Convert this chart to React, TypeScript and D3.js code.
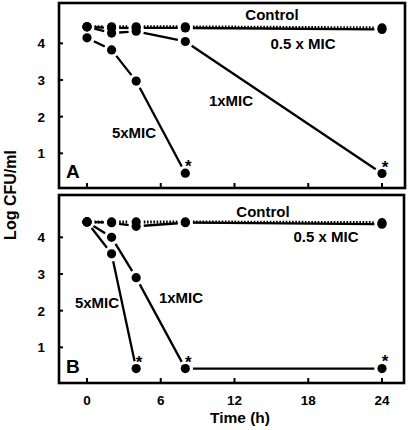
import React from "react";
import * as d3 from "d3";

const times = [0, 2, 4, 8, 24];
const xTicks = [0, 6, 12, 18, 24];
const yTicks = [1, 2, 3, 4];

// Panel A
const aControl = [4.45, 4.45, 4.45, 4.45, 4.42];
const aHalf = [4.45, 4.42, 4.42, 4.42, 4.38];
const aOne = [4.45, 4.28, 4.33, 4.05, 0.45];
const aFiveT = [0, 2, 4, 8];
const aFive = [4.15, 3.82, 2.97, 0.46];
const aStars = [[8, 0.46], [24, 0.45]];

// Panel B
const bControl = [4.42, 4.42, 4.42, 4.42, 4.4];
const bHalf = [4.42, 4.4, 4.3, 4.4, 4.36];
const bOneT = [0, 2, 4, 8, 24];
const bOne = [4.42, 4.0, 2.9, 0.42, 0.42];
const bFiveT = [0, 2, 4];
const bFive = [4.42, 3.55, 0.42];
const bStars = [[4, 0.42], [8, 0.42], [24, 0.43]];

const FONT = "'Liberation Sans', Arial, Helvetica, sans-serif";

const x = d3.scaleLinear().domain([0, 24]).range([87, 382]);

type Series = { t: number[]; v: number[]; dotted?: boolean };

function Panel({
  top,
  bottom,
  right,
  yRange,
  series,
  stars,
  letter,
  labels,
  showXLabels,
}: {
  top: number;
  bottom: number;
  right: number;
  yRange: [number, number];
  series: Series[];
  stars: number[][];
  letter: string;
  labels: { text: string; x: number; y: number; anchor?: string }[];
  showXLabels: boolean;
}) {
  const y = d3.scaleLinear().domain([0, 5.1]).range(yRange);
  const left = 59;
  const r = 4.6;
  const gap = r + 3;
  const segs: JSX.Element[] = [];
  series.forEach((s, si) => {
    for (let i = 0; i < s.t.length - 1; i++) {
      const x1 = x(s.t[i]);
      const y1 = y(s.v[i]);
      const x2 = x(s.t[i + 1]);
      const y2 = y(s.v[i + 1]);
      const len = Math.hypot(x2 - x1, y2 - y1);
      if (len <= gap * 2) continue;
      const ux = (x2 - x1) / len;
      const uy = (y2 - y1) / len;
      segs.push(
        <line
          key={`s${si}-${i}`}
          x1={x1 + ux * gap}
          y1={y1 + uy * gap}
          x2={x2 - ux * gap}
          y2={y2 - uy * gap}
          stroke="#000"
          strokeWidth={s.dotted ? 3 : 2.3}
          strokeDasharray={s.dotted ? "1.6,1.6" : undefined}
        />
      );
    }
  });
  return (
    <g>
      {segs}
      {series.map((s, si) =>
        s.t.map((t, i) => (
          <circle key={`c${si}-${i}`} cx={x(t)} cy={y(s.v[i])} r={r} fill="#000" />
        ))
      )}
      {stars.map(([t, v], i) => (
        <text
          key={`st${i}`}
          x={x(t) + 3}
          y={y(v) - 1}
          textAnchor="middle"
          fontFamily={FONT}
          fontWeight="bold"
          fontSize={17}
        >
          *
        </text>
      ))}
      <rect
        x={left}
        y={top}
        width={right - left}
        height={bottom - top}
        fill="none"
        stroke="#000"
        strokeWidth={2.6}
      />
      {xTicks.map((t) => (
        <line key={`xt${t}`} x1={x(t)} x2={x(t)} y1={bottom} y2={bottom - 5} stroke="#000" strokeWidth={2} />
      ))}
      {yTicks.map((v) => (
        <g key={`yt${v}`}>
          <line x1={left} x2={left + 4} y1={y(v)} y2={y(v)} stroke="#000" strokeWidth={2} />
          <text
            x={45}
            y={y(v)}
            dy="0.36em"
            textAnchor="end"
            fontFamily={FONT}
            fontWeight="bold"
            fontSize={13.5}
          >
            {v}
          </text>
        </g>
      ))}
      {showXLabels &&
        xTicks.map((t) => (
          <text
            key={`xl${t}`}
            x={x(t)}
            y={405}
            textAnchor="middle"
            fontFamily={FONT}
            fontWeight="bold"
            fontSize={13.5}
          >
            {t}
          </text>
        ))}
      <text x={66} y={bottom - 10} fontFamily={FONT} fontWeight="bold" fontSize={19}>
        {letter}
      </text>
      {labels.map((l, i) => (
        <text
          key={`lb${i}`}
          x={l.x}
          y={l.y}
          textAnchor={l.anchor || "start"}
          fontFamily={FONT}
          fontWeight="bold"
          fontSize={15}
        >
          {l.text}
        </text>
      ))}
    </g>
  );
}

export default function App() {
  return (
    <svg
      width={410}
      height={430}
      style={{ position: "absolute", left: 0, top: 0, background: "#fff" }}
    >
      <rect width={410} height={430} fill="#fff" />
      <Panel
        top={3}
        bottom={188}
        right={405}
        yRange={[190, 3]}
        series={[
          { t: times, v: aControl, dotted: true },
          { t: times, v: aHalf },
          { t: times, v: aOne },
          { t: aFiveT, v: aFive },
        ]}
        stars={aStars}
        letter="A"
        labels={[
          { text: "Control", x: 272, y: 20, anchor: "middle" },
          { text: "0.5 x MIC", x: 303, y: 49, anchor: "middle" },
          { text: "1xMIC", x: 231, y: 106, anchor: "middle" },
          { text: "5xMIC", x: 134, y: 138, anchor: "middle" },
        ]}
        showXLabels={false}
      />
      <Panel
        top={195}
        bottom={383}
        right={404}
        yRange={[384, 197]}
        series={[
          { t: times, v: bControl, dotted: true },
          { t: times, v: bHalf },
          { t: bOneT, v: bOne },
          { t: bFiveT, v: bFive },
        ]}
        stars={bStars}
        letter="B"
        labels={[
          { text: "Control", x: 263, y: 217, anchor: "middle" },
          { text: "0.5 x MIC", x: 326, y: 242, anchor: "middle" },
          { text: "1xMIC", x: 181, y: 303, anchor: "middle" },
          { text: "5xMIC", x: 97, y: 308, anchor: "middle" },
        ]}
        showXLabels={true}
      />
      <text
        transform="translate(16,195) rotate(-90)"
        textAnchor="middle"
        fontFamily={FONT}
        fontWeight="bold"
        fontSize={16}
      >
        Log CFU/ml
      </text>
      <text x={240} y={423} textAnchor="middle" fontFamily={FONT} fontWeight="bold" fontSize={15.5}>
        Time (h)
      </text>
    </svg>
  );
}
